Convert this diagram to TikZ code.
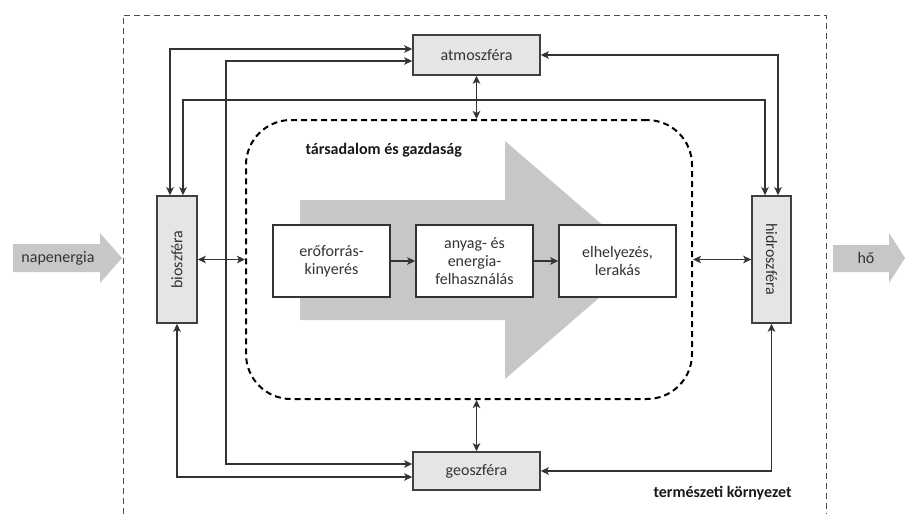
\documentclass[tikz,border=0pt]{standalone}
\usepackage{fontspec}
\setmainfont{Carlito}
\usetikzlibrary{arrows.meta,positioning,calc}

\begin{document}
\begin{tikzpicture}[
  x=1pt, y=-1pt,
  every node/.style={font=\fontsize{16}{18}\selectfont, text=black!80},
  title/.style={font=\fontsize{16}{18}\selectfont\bfseries, text=black!90},
  sphere/.style={rectangle, draw=black!75, line width=1.6pt, fill=black!10, inner sep=0pt},
  process/.style={rectangle, draw=black!80, line width=1.6pt, fill=white, minimum width=117pt, minimum height=72pt, align=center, inner sep=0pt},
  society/.style={rectangle, draw=black, line width=2pt, dash pattern=on 6pt off 4pt, rounded corners=45pt, minimum width=446pt, minimum height=279pt},
  flow/.style={fill=black!22},
  link/.style={<->, line width=1.5pt, draw=black!80},
  step link/.style={->, line width=1.5pt, draw=black!80},
  >={Stealth[length=8pt,width=7.5pt,inset=2pt]}
]
  \useasboundingbox (0,0) rectangle (906,514);

  \draw[black!70, line width=1pt, dash pattern=on 6pt off 4pt] (123,514) -- (123,15) -- (826,15) -- (826,514);

  \fill[flow] (13,244) -- (100,244) -- (100,233) -- (122,258) -- (100,283) -- (100,272) -- (13,272) -- cycle;
  \fill[flow] (833,245) -- (889,245) -- (889,233) -- (905,258) -- (889,283) -- (889,272) -- (833,272) -- cycle;
  \node (nap) at (58,258) {napenergia};
  \node (ho) at (866,258) {hő};

  \node[society] (tarsadalom) at (469,259.5) {};
  \node[title, anchor=west] (tarsadalomcim) at (302,150) {társadalom és gazdaság};
  \fill[flow] (300,200) -- (505,200) -- (505,141) -- (643,260) -- (505,379) -- (505,320) -- (300,320) -- cycle;

  \node[process] (eroforras) at (331.5,261) {erőforrás-\\kinyerés};
  \node[process] (felhasznalas) at (474.5,261) {anyag- és\\energia-\\felhasználás};
  \node[process] (lerakas) at (617.5,261) {elhelyezés,\\lerakás};

  \node[sphere, minimum width=127pt, minimum height=40pt] (atm) at (476.5,55) {atmoszféra};
  \node[sphere, minimum width=127pt, minimum height=38pt] (geo) at (476.5,471) {geoszféra};
  \node[sphere, minimum width=40pt, minimum height=127pt] (bio) at (177,259.5) {\rotatebox{90}{bioszféra}};
  \node[sphere, minimum width=39pt, minimum height=127pt] (hid) at (771.5,259.5) {\rotatebox{-90}{hidroszféra}};

  \node[title, anchor=west] (kornyezet) at (650,493) {természeti környezet};

  \coordinate (atmgeo) at (226,260);
  \coordinate (toprow) at (477,100);

  \draw[step link] (eroforras) -- (felhasznalas);
  \draw[step link] (felhasznalas) -- (lerakas);

  \draw[link] ([xshift=-7pt]bio.north) |- ([yshift=6pt]atm.west);
  \draw[link] ([yshift=-6pt]atm.west) -| (atmgeo) |- ([yshift=7pt]geo.west);
  \draw[link] ([xshift=6pt]bio.north) |- (toprow) -| ([xshift=-6.5pt]hid.north);
  \draw[link] (atm.east) -| ([xshift=6.5pt]hid.north);
  \draw[link] (bio.south) |- ([yshift=-6pt]geo.west);
  \draw[link] (hid.south) |- (geo.east);

  \draw[link] (bio.east) -- (bio.east -| tarsadalom.west);
  \draw[link] (hid.west) -- (hid.west -| tarsadalom.east);
  \draw[link] (atm.south) -- (atm.south |- tarsadalom.north);
  \draw[link] (geo.north) -- (geo.north |- tarsadalom.south);
\end{tikzpicture}
\end{document}
